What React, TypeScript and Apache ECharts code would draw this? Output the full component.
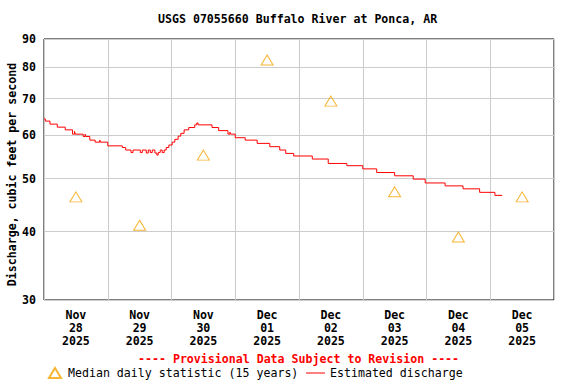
import React, { useEffect, useRef } from 'react';
import * as echarts from 'echarts';

const FONT = "'DejaVu Sans Mono', 'Liberation Mono', monospace";

const chartTitle = 'USGS 07055660 Buffalo River at Ponca, AR';
const provisionalNote = '---- Provisional Data Subject to Revision ----';
const yAxisName = 'Discharge, cubic feet per second';
const medianName = 'Median daily statistic (15 years)';
const dischargeName = 'Estimated discharge';

// x labels (one per day, shown at noon)
const months = ['Nov', 'Nov', 'Nov', 'Dec', 'Dec', 'Dec', 'Dec', 'Dec'];
const days = ['28', '29', '30', '01', '02', '03', '04', '05'];
const years = ['2025', '2025', '2025', '2025', '2025', '2025', '2025', '2025'];

const yTicks = [30, 40, 50, 60, 70, 80, 90];

// hours since Nov 28 00:00
const medianHours = [12, 36, 60, 84, 108, 132, 156, 180];
const medianValues = [46.3, 41.1, 55.2, 82.4, 69.3, 47.3, 39.1, 46.3];

const dischargeHours = [
  0, 0.5, 2.25, 5, 8, 10.75, 11.5, 11.75, 14.75, 15.5,
  15.75, 17.25, 19.25, 21, 21.25, 24, 29.5, 30.75, 32.75, 33.5,
  36.25, 37, 38.5, 39.25, 40, 40.75, 41.75, 42.5, 43, 43.75,
  44.5, 45.25, 46, 47, 48.25, 49.25, 50.5, 51.5, 52.75, 54.5,
  56.75, 57.5, 58, 63.25, 65.75, 69.25, 70, 70.25, 72, 75.75,
  80.25, 85, 88.75, 91, 94, 101, 107, 114, 120, 125.25,
  132, 139, 143.5, 151, 157.75, 164, 169.75, 172.5,
];
const dischargeValues = [
  64.3, 63.7, 62.9, 62.1, 61.4, 60.3, 61.0, 60.3, 59.7, 60.3,
  59.7, 58.8, 58.3, 58.8, 58.3, 57.4, 57.0, 56.4, 55.8, 56.4,
  55.8, 56.4, 55.7, 56.4, 55.8, 56.4, 55.7, 55.2, 55.8, 56.4,
  55.8, 56.4, 57.0, 57.6, 58.3, 59.0, 59.8, 60.5, 61.4, 62.0,
  62.7, 63.2, 62.7, 62.0, 61.2, 60.3, 60.8, 60.3, 59.4, 58.8,
  58.0, 57.2, 56.4, 55.6, 55.0, 54.3, 53.3, 52.8, 52.1, 51.3,
  50.6, 49.9, 49.1, 48.5, 47.9, 47.2, 46.6, 46.6,
];

export default function App() {
  const ref = useRef<HTMLDivElement>(null);
  useEffect(() => {
    const chart = echarts.init(ref.current!, null, { renderer: 'svg' });
    const txt = { fontFamily: FONT, fontWeight: 'bold' as const, fontSize: 11.6, color: '#000' };
    chart.setOption({
      animation: false,
      backgroundColor: '#fff',
      textStyle: { fontFamily: FONT },
      title: [
        { text: chartTitle, left: 158, top: 13, padding: 0, textStyle: { ...txt } },
        { text: provisionalNote, left: 138, top: 353, padding: 0, textStyle: { ...txt, color: '#ff0000' } },
      ],
      legend: [
        {
          data: [medianName], left: 48, top: 367, padding: 0, itemWidth: 12, itemHeight: 10, itemGap: 8,
          textStyle: { fontFamily: FONT, fontSize: 11.6, color: '#000', padding: [0, 0, 0, 2] },
        },
        {
          data: [{ name: dischargeName, icon: 'rect' }], left: 306, top: 367, padding: 0, itemWidth: 19, itemHeight: 1,
          textStyle: { fontFamily: FONT, fontSize: 11.6, color: '#000' },
        },
      ],
      grid: {
        left: 44, top: 39, right: 22, bottom: 84, containLabel: false, outerBoundsMode: 'none',
        show: true, borderColor: '#000', borderWidth: 1, backgroundColor: '#fff',
      },
      xAxis: [
        {
          type: 'value', min: 0, max: 192, interval: 24,
          axisLine: { show: false }, axisTick: { show: false }, axisLabel: { show: false },
          splitLine: { show: true, lineStyle: { color: '#cccccc', width: 1 } },
        },
        {
          type: 'value', min: 0, max: 192, interval: 12, position: 'bottom',
          axisLine: { show: false }, axisTick: { show: false }, splitLine: { show: false },
          axisLabel: {
            ...txt, lineHeight: 13, margin: 8,
            showMinLabel: false, showMaxLabel: false,
            formatter: (v: number) => {
              if (v % 24 !== 12) return '';
              const i = (v - 12) / 24;
              return `${months[i]}\n${days[i]}\n${years[i]}`;
            },
          },
        },
      ],
      yAxis: {
        type: 'log', logBase: 10, min: 30, max: 90,
        name: yAxisName, nameLocation: 'middle', nameRotate: 90, nameGap: 26,
        nameMoveOverlap: false,
        nameTextStyle: { ...txt, padding: [0, 10, 0, 0] },
        axisLine: { show: false },
        axisTick: { show: false, customValues: yTicks },
        axisLabel: { ...txt, margin: 8, customValues: yTicks },
        splitLine: { show: true, lineStyle: { color: '#cccccc', width: 1 } },
      },
      series: [
        {
          name: medianName, type: 'scatter', xAxisIndex: 0, z: 3,
          symbol: 'triangle', symbolSize: [12, 10],
          itemStyle: { color: 'rgba(255,255,255,0)', borderColor: '#f5a300', borderWidth: 1 },
          data: medianHours.map((h, i) => [h, medianValues[i]]),
        },
        {
          name: dischargeName, type: 'line', xAxisIndex: 0, z: 4,
          step: 'end', symbol: 'none', showSymbol: false,
          lineStyle: { color: '#ff0000', width: 1 },
          itemStyle: { color: '#ff0000' },
          data: dischargeHours.map((h, i) => [h, dischargeValues[i]]),
        },
      ],
    });
    return () => chart.dispose();
  }, []);
  return <div ref={ref} style={{ position: 'absolute', left: 0, top: 0, width: 576, height: 384 }} />;
}
